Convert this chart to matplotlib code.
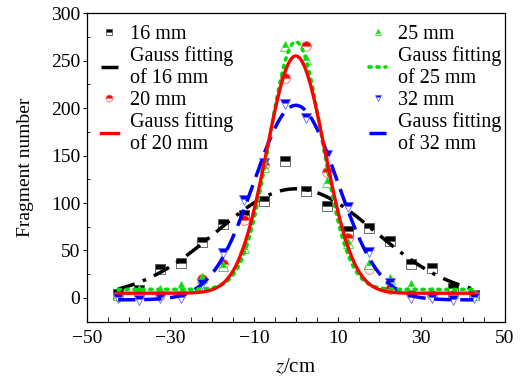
import matplotlib
matplotlib.use("Agg")
import matplotlib.pyplot as plt
import numpy as np
from matplotlib.ticker import MultipleLocator, FuncFormatter

plt.rcParams['font.family'] = ['Liberation Serif', 'DejaVu Serif']
plt.rcParams['mathtext.fontset'] = 'stix'

# measured fragment counts along z (cm)
z = [-42.5, -37.5, -32.5, -27.5, -22.5, -17.5, -12.5, -7.5, -2.5,
     2.5, 7.5, 12.5, 17.5, 22.5, 27.5, 32.5, 37.5, 42.5]
n16 = [4, 8, 30, 37, 59, 78, 87, 102, 144, 113, 97, 71, 74, 60, 36, 32, 10, 3]
n20 = [2, 3, 3, 4, 20, 36, 82, 140, 232, 265, 133, 63, 31, 9, 4, 3, 3, 3]
n25 = [3, 8, 8, 13, 21, 34, 53, 138, 265, 252, 122, 58, 36, 20, 14, 6, 5, 3]
n32 = [0, -2, 0, 0, 15, 47, 103, 142, 204, 190, 151, 96, 48, 16, 0, 0, -2, 0]

# Gauss fit parameters: offset, amplitude, centre, sigma
fit16 = (0, 115, 0, 19.0)
fit20 = (5, 250, 0, 6.9)
fit25 = (9, 261, 0, 6.3)
fit32 = (-2, 205, 0, 10.0)


def gauss(x, p):
    y0, a, xc, s = p
    return y0 + a * np.exp(-(x - xc) ** 2 / (2 * s ** 2))


fig = plt.figure(figsize=(5.24, 3.78), dpi=100)
ax = fig.add_axes([0.1655, 0.149, 0.798, 0.816])

zz = np.linspace(-42.5, 42.5, 400)
mk = dict(linestyle='none', fillstyle='top', markerfacecoloralt='white',
          markersize=7, markeredgewidth=0.6)

s16, = ax.plot(z, n16, marker='s', color='black', markeredgecolor='#555555', **mk)
s20, = ax.plot(z, n20, marker='o', color='red', markeredgecolor='#ff6666', **mk)
s25, = ax.plot(z, n25, marker='^', color='#00dd00', markeredgecolor='#33dd33', **mk)
s32, = ax.plot(z, n32, marker='v', color='blue', markeredgecolor='#6666ff', **mk)

l16, = ax.plot(zz, gauss(zz, fit16), color='black', lw=2.5,
               linestyle=(0, (5, 2.5, 1, 2.5)))
l32, = ax.plot(zz, gauss(zz, fit32), color='blue', lw=2.5,
               linestyle=(0, (5, 2.5)))
l25, = ax.plot(zz, gauss(zz, fit25), color='#00dd00', lw=2.6,
               linestyle=(0, (0.6, 1.6)), dash_capstyle='round')
l20, = ax.plot(zz, gauss(zz, fit20), color='red', lw=2.4)

ax.set_xlim(-50, 50)
ax.set_ylim(-25, 300)
ax.xaxis.set_major_locator(MultipleLocator(10))
ax.xaxis.set_minor_locator(MultipleLocator(5))
ax.xaxis.set_major_formatter(FuncFormatter(
    lambda v, p: ('\u2212%d' % abs(v) if v < 0 else '%d' % v) if int(round(v)) % 20 != 0 else ''))
ax.yaxis.set_major_locator(MultipleLocator(50))
ax.yaxis.set_minor_locator(MultipleLocator(25))
ax.tick_params(labelsize=14, top=False, right=False)
ax.tick_params(axis='x', which='both', direction='in', length=3.5, pad=6)
ax.tick_params(axis='y', which='major', direction='out', length=3, pad=1.5)
ax.tick_params(axis='y', which='minor', direction='in', length=2.5)
for sp in ax.spines.values():
    sp.set_linewidth(0.9)

ax.set_xlabel('$z$/cm', fontsize=15, labelpad=8)
ax.set_ylabel('Fragment number', fontsize=14, labelpad=12)

leg_kw = dict(frameon=False, fontsize=14.5, handlelength=0.85, handletextpad=0.6,
              labelspacing=0.12, borderpad=0, borderaxespad=0, markerscale=0.7,
              loc='upper left', bbox_transform=ax.transAxes)
leg1 = ax.legend([s16, l16, s20, l20],
                 ['16 mm', 'Gauss fitting\nof 16 mm', '20 mm', 'Gauss fitting\nof 20 mm'],
                 bbox_to_anchor=(0.033, 0.962), **leg_kw)
ax.add_artist(leg1)
leg2 = ax.legend([s25, l25, s32, l32],
                 ['25 mm', 'Gauss fitting\nof 25 mm', '32 mm', 'Gauss fitting\nof 32 mm'],
                 bbox_to_anchor=(0.675, 0.962), **leg_kw)
for lg in (leg1, leg2):
    for t in lg.get_texts():
        t.set_linespacing(1.2)

fig.savefig('out.png', dpi=100)
